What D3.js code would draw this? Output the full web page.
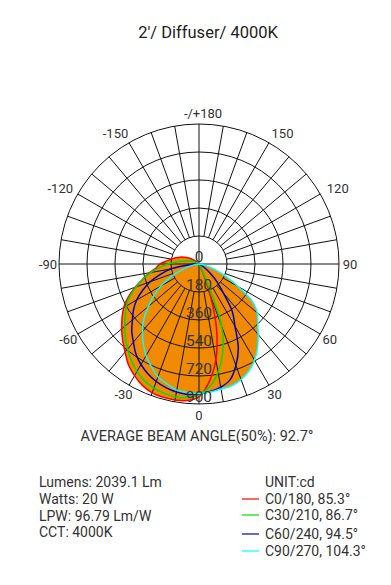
<!DOCTYPE html>
<html>
<head>
<meta charset="utf-8">
<script src="https://cdn.jsdelivr.net/npm/d3@7/dist/d3.min.js"></script>
<style>
  html, body { margin: 0; padding: 0; background: #fff; }
  svg { display: block; }
  text { font-family: Roboto, "DejaVu Sans", sans-serif; }
</style>
</head>
<body>
<svg id="chart" width="391" height="585"></svg>
<script>
// ---- data ----
const title = "2'/ Diffuser/ 4000K";
const gammaAngles = [-140,-135,-130,-125,-120,-115,-110,-105,-100,-95,-90,-85,-80,-75,-70,-65,-60,-55,-50,-45,-40,-35,-30,-25,-20,-15,-10,-5,0,5,10,15,20,25,30,35,40,45,50,55,60,65,70,75,80,85,90];
const c0_180  = [0,13,32,51,77,103,129,154,180,212,251,276,321,373,437,501,559,604,649,694,739,791,829,861,881,887,887,881,855,759,624,437,206,32,0,0,0,0,0,0,0,0,0,0,0,0,0];
const c30_210 = [0,0,6,13,19,32,51,77,103,148,199,251,315,373,431,489,540,579,624,669,714,759,797,829,849,861,868,861,842,791,707,591,424,64,0,0,0,0,0,0,0,0,0,0,0,0,0];
const c60_240 = [0,0,0,0,0,0,0,0,0,6,26,71,186,257,334,399,463,514,559,611,656,707,746,778,804,823,836,842,836,823,804,771,694,598,463,373,244,167,96,51,19,6,0,0,0,0,0];
const c90_270 = [0,0,0,0,0,0,0,0,0,0,0,13,32,71,129,206,283,354,424,501,566,624,681,726,771,797,823,829,832,826,816,810,791,759,714,656,591,534,489,418,289,193,116,64,32,13,0];
const seriesNames = ["C0/180, 85.3°", "C30/210, 86.7°", "C60/240, 94.5°", "C90/270, 104.3°"];
const seriesColors = ["#ff0000", "#00dd00", "#0000cc", "#00ffff"];
const ringValues = [0, 180, 360, 540, 720, 900];
const spokeAngles = d3.range(-170, 181, 10);
const angleLabels = [0, 30, 60, 90, 120, 150, 180, -150, -120, -90, -60, -30];
const infoLines = ["Lumens: 2039.1 Lm", "Watts: 20 W", "LPW: 96.79 Lm/W", "CCT: 4000K"];
const beamText = "AVERAGE BEAM ANGLE(50%): 92.7°";
const unitText = "UNIT:cd";

// ---- layout ----
const svg = d3.select("#chart");
const cx = 199, cy = 264, R = 140;
const r = d3.scaleLinear().domain([0, 900]).range([0, R]);
const rad = a => (180 - a) * Math.PI / 180; // 0 = down, +90 = right
const g = svg.append("g").attr("transform", `translate(${cx},${cy})`);

const seriesData = [c0_180, c30_210, c60_240, c90_270].map(vals =>
  gammaAngles.map((a, i) => ({a, v: vals[i]})));

const line = d3.lineRadial()
  .angle(d => rad(d.a))
  .radius(d => r(d.v))
  .curve(d3.curveCatmullRom.alpha(0.5));

// fills
g.selectAll("path.fill").data(seriesData).enter().append("path")
  .attr("class", "fill")
  .attr("d", d => line(d) + "Z")
  .attr("fill", "#f08a00")
  .attr("stroke", "none");

// grid rings
g.selectAll("circle.ring").data(ringValues.slice(1)).enter().append("circle")
  .attr("r", d => r(d))
  .attr("fill", "none")
  .attr("stroke", "#111")
  .attr("stroke-width", 1);

// spokes
g.selectAll("line.spoke").data(spokeAngles).enter().append("line")
  .attr("x1", d => (d % 90 === 0 ? 0 : r(180)) * Math.sin(rad(d)))
  .attr("y1", d => -(d % 90 === 0 ? 0 : r(180)) * Math.cos(rad(d)))
  .attr("x2", d => R * Math.sin(rad(d)))
  .attr("y2", d => -R * Math.cos(rad(d)))
  .attr("stroke", "#111")
  .attr("stroke-width", 1);

// curve lines
g.selectAll("path.curve").data(seriesData).enter().append("path")
  .attr("class", "curve")
  .attr("d", d => line(d) + "Z")
  .attr("fill", "none")
  .attr("stroke", (d, i) => seriesColors[i])
  .attr("stroke-width", 1.5);

// ring labels
g.selectAll("text.ringlab").data(ringValues).enter().append("text")
  .attr("x", 0)
  .attr("y", d => r(d) - 7)
  .attr("text-anchor", "middle")
  .attr("dominant-baseline", "central")
  .attr("font-size", 15.5)
  .attr("fill", "#333")
  .text(d => d);

// angle labels
g.selectAll("text.anglab").data(angleLabels).enter().append("text")
  .attr("x", d => {
    const s = Math.sin(rad(d)), c = -Math.cos(rad(d));
    let x = 151 * s;
    if (c < -0.1) x += 8 * Math.sign(s);
    if (d === 180) x += 4;
    return x;
  })
  .attr("y", d => -151 * Math.cos(rad(d)))
  .attr("text-anchor", "middle")
  .attr("dominant-baseline", "central")
  .attr("font-size", 13)
  .attr("fill", "#333")
  .text(d => d === 180 ? "-/+180" : d);

// title
svg.append("text").attr("x", 208).attr("y", 32)
  .attr("text-anchor", "middle").attr("dominant-baseline", "central")
  .attr("font-size", 16.5).attr("fill", "#222").text(title);

// beam angle
svg.append("text").attr("x", 197).attr("y", 436)
  .attr("text-anchor", "middle").attr("dominant-baseline", "central")
  .attr("font-size", 14.5).attr("fill", "#333").text(beamText);

// info lines
const infoY = [482, 499, 516, 532];
svg.selectAll("text.info").data(infoLines).enter().append("text")
  .attr("x", 39).attr("y", (d, i) => infoY[i])
  .attr("dominant-baseline", "central")
  .attr("font-size", 14).attr("fill", "#333").text(d => d);

// legend
svg.append("text").attr("x", 265).attr("y", 482)
  .attr("dominant-baseline", "central")
  .attr("font-size", 14).attr("fill", "#333").text(unitText);
const legY = [499, 515, 534, 551];
const leg = svg.selectAll("g.leg").data(seriesNames).enter().append("g")
  .attr("transform", (d, i) => `translate(0,${legY[i]})`);
leg.append("line").attr("x1", 242).attr("x2", 259).attr("y1", 0).attr("y2", 0)
  .attr("stroke", (d, i) => seriesColors[i]).attr("stroke-width", 1.2);
leg.append("text").attr("x", 265).attr("y", 0)
  .attr("dominant-baseline", "central")
  .attr("font-size", 14).attr("fill", "#333").text(d => d);
</script>
</body>
</html>
